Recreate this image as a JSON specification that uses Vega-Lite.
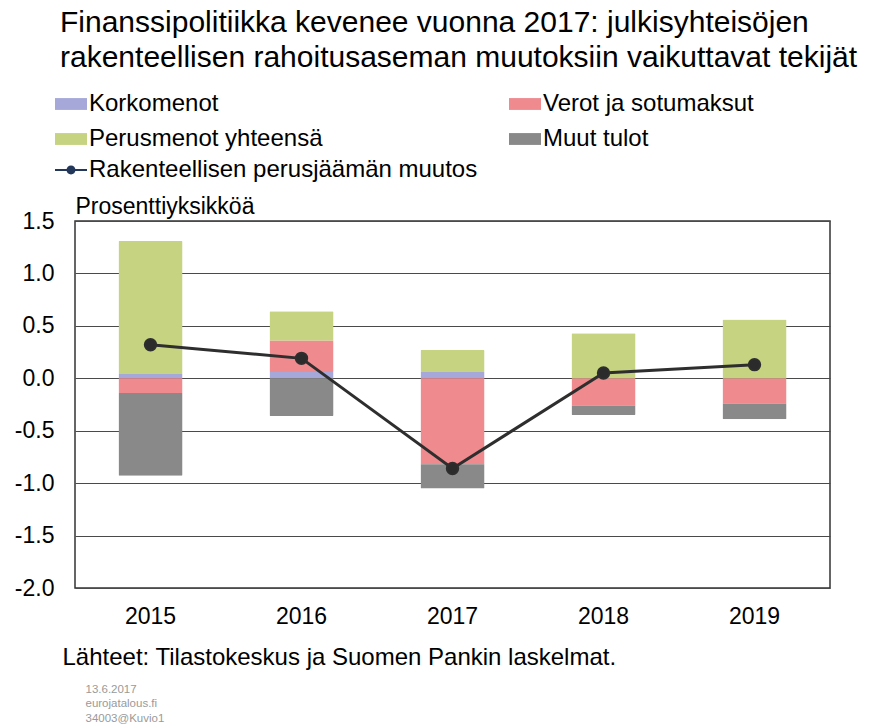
{
  "$schema": "https://vega.github.io/schema/vega-lite/v6.json",
  "autosize": {"type": "none"},
  "padding": {"left": 75, "top": 221, "right": 52, "bottom": 139},
  "width": 755,
  "height": 367,
  "background": "white",
  "title": {
    "text": ["Finanssipolitiikka kevenee vuonna 2017: julkisyhteisöjen", "rakenteellisen rahoitusaseman muutoksiin vaikuttavat tekijät"],
    "anchor": "start",
    "frame": "group",
    "font": "Liberation Sans",
    "fontSize": 30,
    "fontWeight": "normal",
    "color": "#000000",
    "lineHeight": 35,
    "dx": -15,
    "offset": 15
  },
  "datasets": {
    "bars": [
      {"year": "2015", "component": "Korkomenot", "value": 0.04},
      {"year": "2015", "component": "Verot ja sotumaksut", "value": -0.14},
      {"year": "2015", "component": "Perusmenot yhteensä", "value": 1.27},
      {"year": "2015", "component": "Muut tulot", "value": -0.79},
      {"year": "2016", "component": "Korkomenot", "value": 0.06},
      {"year": "2016", "component": "Verot ja sotumaksut", "value": 0.30},
      {"year": "2016", "component": "Perusmenot yhteensä", "value": 0.28},
      {"year": "2016", "component": "Muut tulot", "value": -0.36},
      {"year": "2017", "component": "Korkomenot", "value": 0.06},
      {"year": "2017", "component": "Verot ja sotumaksut", "value": -0.82},
      {"year": "2017", "component": "Perusmenot yhteensä", "value": 0.21},
      {"year": "2017", "component": "Muut tulot", "value": -0.23},
      {"year": "2018", "component": "Korkomenot", "value": 0.0},
      {"year": "2018", "component": "Verot ja sotumaksut", "value": -0.26},
      {"year": "2018", "component": "Perusmenot yhteensä", "value": 0.43},
      {"year": "2018", "component": "Muut tulot", "value": -0.09},
      {"year": "2019", "component": "Korkomenot", "value": 0.0},
      {"year": "2019", "component": "Verot ja sotumaksut", "value": -0.24},
      {"year": "2019", "component": "Perusmenot yhteensä", "value": 0.56},
      {"year": "2019", "component": "Muut tulot", "value": -0.15}
    ],
    "line": [
      {"year": "2015", "series": "Rakenteellisen perusjäämän muutos", "change": 0.32},
      {"year": "2016", "series": "Rakenteellisen perusjäämän muutos", "change": 0.19},
      {"year": "2017", "series": "Rakenteellisen perusjäämän muutos", "change": -0.86},
      {"year": "2018", "series": "Rakenteellisen perusjäämän muutos", "change": 0.05},
      {"year": "2019", "series": "Rakenteellisen perusjäämän muutos", "change": 0.13}
    ]
  },
  "layer": [
    {
      "data": {"name": "bars"},
      "transform": [
        {"window": [{"op": "row_number", "as": "stackOrder"}], "groupby": ["year"]}
      ],
      "mark": {"type": "bar", "cornerRadius": 1},
      "encoding": {
        "x": {
          "field": "year",
          "type": "nominal",
          "scale": {"paddingInner": 0.576, "paddingOuter": 0.288},
          "axis": {
            "labelAngle": 0,
            "labelFontSize": 23,
            "labelFont": "Liberation Sans",
            "labelColor": "#000000",
            "labelPadding": 17,
            "ticks": false,
            "domain": false,
            "grid": false,
            "title": "Lähteet: Tilastokeskus ja Suomen Pankin laskelmat.",
            "titleFont": "Liberation Sans",
            "titleFontSize": 24,
            "titleFontWeight": "normal",
            "titleColor": "#000000",
            "titleAlign": "left",
            "titleBaseline": "alphabetic",
            "titleX": -13,
            "titleY": 76
          }
        },
        "y": {
          "field": "value",
          "type": "quantitative",
          "stack": "zero",
          "scale": {"domain": [-2, 1.5], "nice": false, "zero": false},
          "axis": {
            "values": [-2, -1.5, -1, -0.5, 0, 0.5, 1, 1.5],
            "format": ".1f",
            "labelExpr": "replace(datum.label, '\u2212', '-')",
            "labelFontSize": 23,
            "labelFont": "Liberation Sans",
            "labelColor": "#000000",
            "labelPadding": 21,
            "ticks": false,
            "domain": false,
            "grid": true,
            "gridColor": "#4a4a4a",
            "gridWidth": 1,
            "title": "Prosenttiyksikköä",
            "titleFont": "Liberation Sans",
            "titleFontSize": 23,
            "titleFontWeight": "normal",
            "titleColor": "#000000",
            "titleAngle": 0,
            "titleAlign": "left",
            "titleBaseline": "alphabetic",
            "titleX": 0,
            "titleY": -8
          }
        },
        "order": {"field": "stackOrder", "type": "quantitative", "sort": "ascending"},
        "fill": {
          "field": "component",
          "type": "nominal",
          "scale": {
            "domain": ["Korkomenot", "Perusmenot yhteensä", "Verot ja sotumaksut", "Muut tulot"],
            "range": ["#a5a8d8", "#c6d381", "#ef8a8f", "#898989"]
          },
          "legend": {
            "title": null,
            "orient": "none",
            "legendX": -20,
            "legendY": -133,
            "columns": 2,
            "columnPadding": 186,
            "rowPadding": 7,
            "symbolType": "M-1,-0.37L1,-0.37L1,0.37L-1,0.37Z",
            "symbolSize": 1024,
            "symbolStrokeWidth": 0,
            "labelFont": "Liberation Sans",
            "labelFontSize": 24,
            "labelColor": "#000000",
            "labelOffset": 2,
            "labelLimit": 400
          }
        }
      }
    },
    {
      "data": {"name": "line"},
      "mark": {"type": "line", "strokeWidth": 3, "color": "#2e2e2e", "point": {"filled": true, "size": 130, "fill": "#2b2b2b", "stroke": "#2b2b2b"}},
      "encoding": {
        "x": {
          "field": "year",
          "type": "nominal",
          "axis": {
            "orient": "top",
            "labels": false,
            "ticks": false,
            "domain": false,
            "grid": false,
            "title": ["13.6.2017", "eurojatalous.fi", "34003@Kuvio1"],
            "titleFont": "Liberation Sans",
            "titleFontSize": 11.5,
            "titleFontWeight": "normal",
            "titleColor": "#9a9a9a",
            "titleAlign": "left",
            "titleBaseline": "alphabetic",
            "titleLineHeight": 14.5,
            "titleX": 10,
            "titleY": 471
          }
        },
        "y": {"field": "change", "type": "quantitative", "title": "Prosenttiyksikköä"},
        "stroke": {
          "field": "series",
          "type": "nominal",
          "scale": {"range": ["#2e2e2e"]},
          "legend": {
            "title": null,
            "orient": "none",
            "legendX": -20,
            "legendY": -67,
            "symbolType": "M-1,-0.07L1,-0.07L1,0.07L-1,0.07Z M-0.28,0A0.28,0.28 0 1,1 0.28,0A0.28,0.28 0 1,1 -0.28,0Z",
            "symbolSize": 1024,
            "symbolStrokeWidth": 0,
            "labelFont": "Liberation Sans",
            "labelFontSize": 24,
            "labelColor": "#000000",
            "labelOffset": 2,
            "labelLimit": 500,
            "encode": {"symbols": {"update": {"fill": {"value": "#23375a"}, "strokeWidth": {"value": 0}}}}
          }
        }
      }
    }
  ],
  "resolve": {"axis": {"x": "independent"}},
  "config": {
    "view": {"stroke": "#333333", "strokeWidth": 1.5}
  }
}
